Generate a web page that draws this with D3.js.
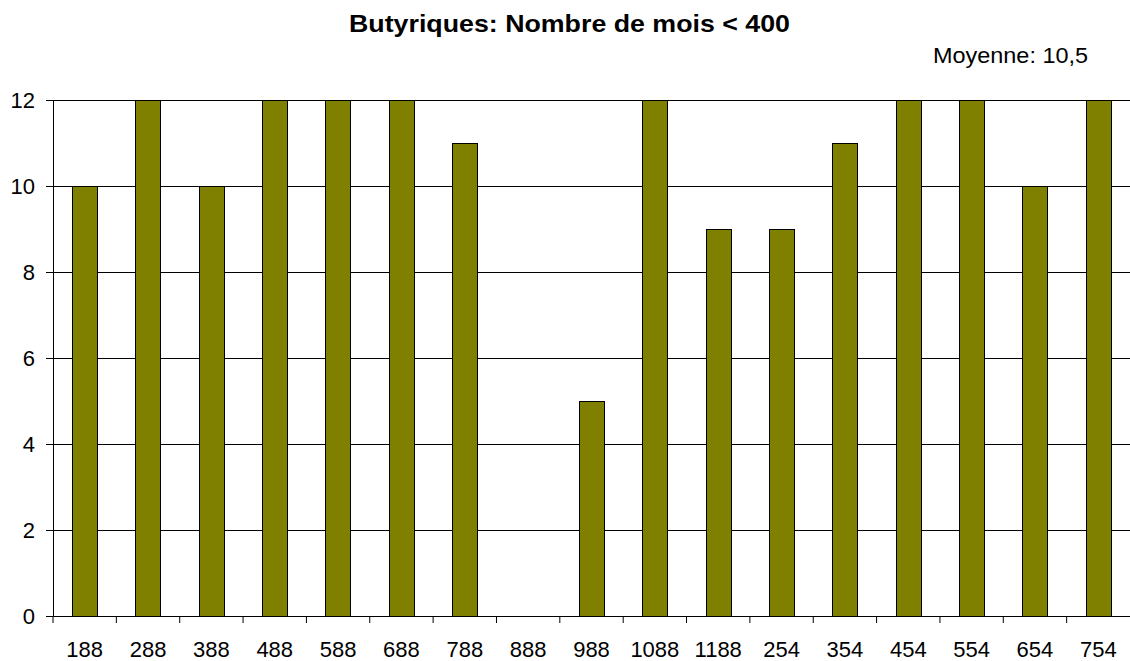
<!doctype html>
<html>
<head>
<meta charset="utf-8">
<script src="https://d3js.org/d3.v7.min.js"></script>
<style>
  body{margin:0;background:#fff;}
  text{font-family:"Liberation Sans",Arial,sans-serif;fill:#000;}
  .domain{stroke:#000;}
</style>
</head>
<body>
<svg id="chart" width="1130" height="661"></svg>
<script>
var categories = ['188','288','388','488','588','688','788','888','988','1088','1188','254','354','454','554','654','754'];
var values = [10,12,10,12,12,12,11,0,5,12,9,9,11,12,12,10,12];
var yTicks = [0,2,4,6,8,10,12];
var title = 'Butyriques: Nombre de mois < 400';
var note = 'Moyenne: 10,5';

var plotLeft = 53, plotRight = 1130, plotTop = 100, plotBottom = 616;
var svg = d3.select('#chart');

var x = d3.scaleBand().domain(categories).range([plotLeft, plotRight])
  .paddingInner(0.6).paddingOuter(0.3);
var y = d3.scaleLinear().domain([0, 12]).range([plotBottom, plotTop]);

// grid
svg.append('g').selectAll('line').data(yTicks.filter(d => d > 0)).enter()
  .append('line')
  .attr('x1', plotLeft).attr('x2', plotRight)
  .attr('y1', d => y(d)).attr('y2', d => y(d))
  .attr('stroke', '#000').attr('shape-rendering', 'crispEdges');

// bars
var rows = categories.map((c, i) => ({c: c, v: values[i]})).filter(d => d.v > 0);
svg.append('g').selectAll('rect').data(rows).enter()
  .append('rect')
  .attr('x', d => Math.round(x(d.c)) + 0.5)
  .attr('y', d => Math.round(y(d.v)) + 0.5)
  .attr('width', Math.round(x.bandwidth()))
  .attr('height', d => Math.round(plotBottom - y(d.v)))
  .attr('fill', '#808000').attr('stroke', '#000').attr('stroke-width', 1);

// y axis
var yAxis = d3.axisLeft(y).tickValues(yTicks).tickSize(7).tickPadding(11);
var gy = svg.append('g').attr('transform', 'translate(' + plotLeft + ',0)').call(yAxis);
gy.selectAll('text').style('font-size', '22px');
gy.selectAll('line').attr('stroke', '#000');

// x axis: ticks between categories
var xAxis = d3.axisBottom(x).tickSize(0).tickPadding(25);
var gx = svg.append('g').attr('transform', 'translate(0,' + plotBottom + ')').call(xAxis);
gx.selectAll('text').style('font-size', '22px');
var step = x.step();
gx.selectAll('line.sep').data(d3.range(categories.length)).enter()
  .append('line').attr('class', 'sep')
  .attr('x1', i => plotLeft + i * step).attr('x2', i => plotLeft + i * step)
  .attr('y1', 0).attr('y2', 7).attr('stroke', '#000');

svg.append('text').attr('x', 349).attr('y', 32)
  .attr('textLength', 441).attr('lengthAdjust', 'spacingAndGlyphs')
  .style('font-size', '24px').style('font-weight', 'bold').text(title);
svg.append('text').attr('x', 933).attr('y', 63)
  .attr('textLength', 155).attr('lengthAdjust', 'spacingAndGlyphs')
  .style('font-size', '22px').text(note);
</script>
</body>
</html>
